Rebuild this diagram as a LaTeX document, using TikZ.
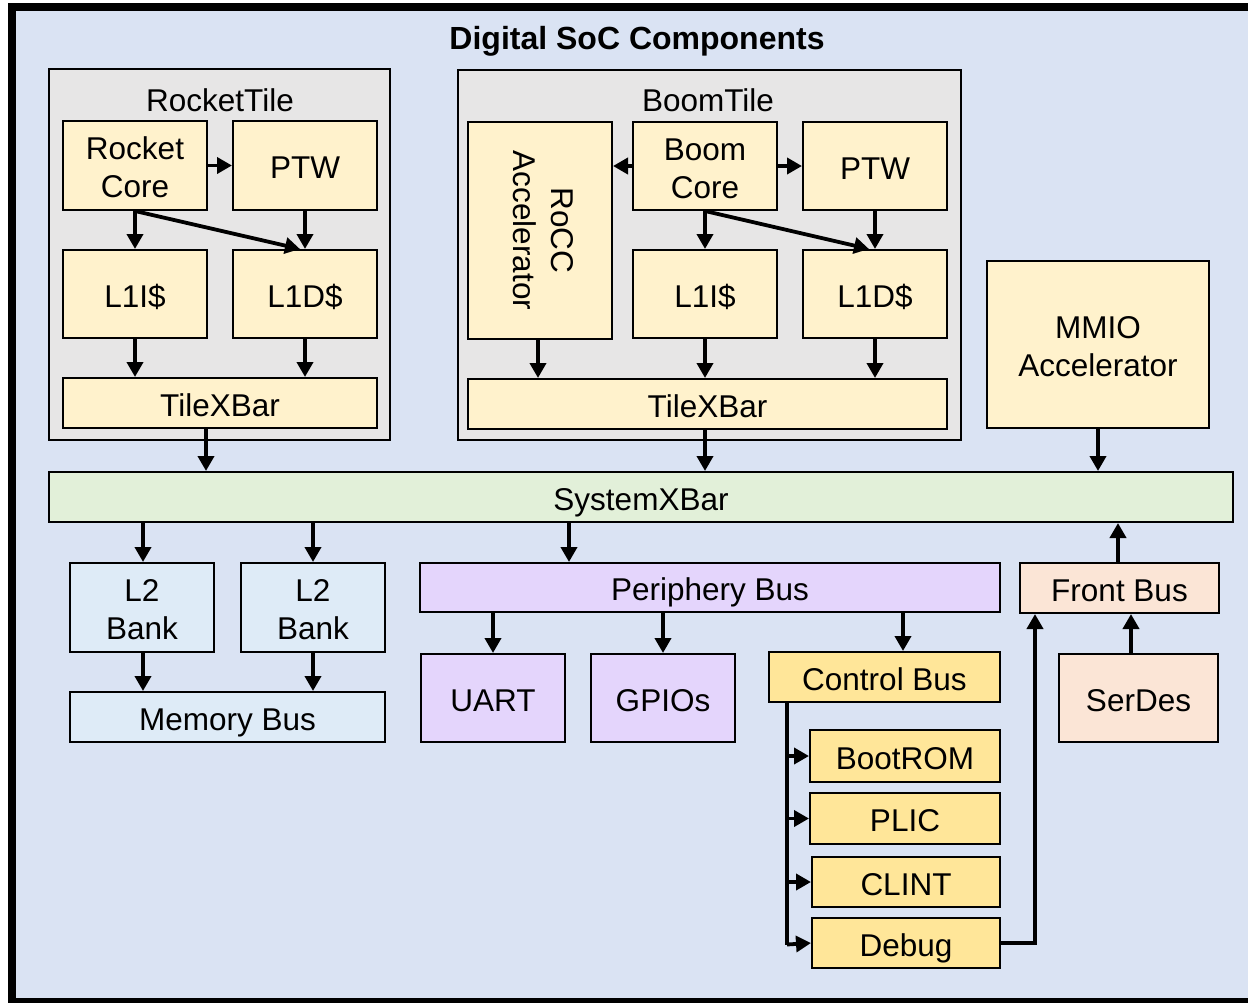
\documentclass[tikz,border=0pt]{standalone}
\usepackage{fontspec}
\setmainfont{Liberation Sans}
\usepackage{graphicx}
\usetikzlibrary{arrows.meta}
\definecolor{bgblue}{HTML}{DAE3F3}
\definecolor{tilegray}{HTML}{E7E6E6}
\definecolor{ltyellow}{HTML}{FFF2CC}
\definecolor{dkyellow}{HTML}{FFE699}
\definecolor{ltgreen}{HTML}{E2F0D9}
\definecolor{ltblue}{HTML}{DEEBF7}
\definecolor{lavender}{HTML}{E4D5FC}
\definecolor{peach}{HTML}{FBE5D6}
\begin{document}
\begin{tikzpicture}[x=1pt,y=-1pt,
  box/.style={draw=black, line width=2pt, inner sep=0pt, align=center, text height=26pt, text depth=0pt, font=\fontsize{31.5}{38}\selectfont},
  two/.style={text height=64pt, text depth=0pt},
  yb/.style={box, fill=ltyellow},
  tilebox/.style={draw=black, line width=2pt, fill=tilegray, inner sep=0pt},
  lbl/.style={inner sep=0pt, text height=26pt, text depth=0pt, font=\fontsize{31.5}{38}\selectfont},
  arr/.style={line width=3.8pt, -{Triangle[length=15pt 0 0,width=16pt 0 0]}},
  wire/.style={line width=3.8pt}]
\useasboundingbox (0,0) rectangle (1248,1002);
\fill[white] (0,0) rectangle (1248,1002);
\draw[line width=8pt, fill=bgblue] (12,7) rectangle (1252,1002);
\node[lbl, font=\fontsize{32}{38}\selectfont\bfseries] (title) at (637,36.5) {Digital SoC Components};

% Rocket tile
\node[tilebox, minimum width=341pt, minimum height=371pt] (rtile) at (219.5,254.5) {};
\node[lbl] (rtitle) at (220,98.5) {RocketTile};
\node[yb, two, minimum width=144pt, minimum height=89pt] (rc) at (135,165.5) {Rocket\\Core};
\node[yb, minimum width=144pt, minimum height=89pt] (rptw) at (305,165.5) {PTW};
\node[yb, minimum width=144pt, minimum height=88pt] (rl1i) at (135,294) {L1I\$};
\node[yb, minimum width=144pt, minimum height=88pt] (rl1d) at (305,294) {L1D\$};
\node[yb, minimum width=314pt, minimum height=50pt] (rxbar) at (220,403) {TileXBar};

% Boom tile
\node[tilebox, minimum width=503pt, minimum height=370pt] (btile) at (709.5,255) {};
\node[lbl] (btitle) at (708,98.5) {BoomTile};
\node[yb, text height=, text depth=, minimum width=144pt, minimum height=217pt] (rocc) at (540,230.5)
  {\rotatebox{-90}{\begin{tabular}{@{}c@{}}RoCC\\Accelerator\end{tabular}}};
\node[yb, two, minimum width=144pt, minimum height=88pt] (bc) at (705,166) {Boom\\Core};
\node[yb, minimum width=144pt, minimum height=88pt] (bptw) at (875,166) {PTW};
\node[yb, minimum width=144pt, minimum height=88pt] (bl1i) at (705,294) {L1I\$};
\node[yb, minimum width=144pt, minimum height=88pt] (bl1d) at (875,294) {L1D\$};
\node[yb, minimum width=479pt, minimum height=50pt] (bxbar) at (707.5,404) {TileXBar};

% MMIO and system bar
\node[yb, two, minimum width=222pt, minimum height=167pt] (mmio) at (1098,344.5) {MMIO\\Accelerator};
\node[box, fill=ltgreen, minimum width=1184pt, minimum height=50pt] (sysx) at (641,497) {SystemXBar};

% Memory side
\node[box, two, fill=ltblue, minimum width=144pt, minimum height=89pt] (l2a) at (142,607.5) {L2\\Bank};
\node[box, two, fill=ltblue, minimum width=144pt, minimum height=89pt] (l2b) at (313,607.5) {L2\\Bank};
\node[box, fill=ltblue, minimum width=315pt, minimum height=50pt] (membus) at (227.5,717) {Memory Bus};

% Periphery
\node[box, fill=lavender, minimum width=580pt, minimum height=49pt] (pbus) at (710,587.5) {Periphery Bus};
\node[box, fill=lavender, minimum width=144pt, minimum height=88pt] (uart) at (493,698) {UART};
\node[box, fill=lavender, minimum width=144pt, minimum height=88pt] (gpio) at (663,698) {GPIOs};
\node[box, fill=dkyellow, minimum width=231pt, minimum height=50pt] (cbus) at (884.5,677) {Control Bus};
\node[box, fill=dkyellow, minimum width=190pt, minimum height=52pt] (boot) at (905,756) {BootROM};
\node[box, fill=dkyellow, minimum width=190pt, minimum height=51pt] (plic) at (905,818.5) {PLIC};
\node[box, fill=dkyellow, minimum width=188pt, minimum height=50pt] (clint) at (906,882) {CLINT};
\node[box, fill=dkyellow, minimum width=188pt, minimum height=50pt] (debug) at (906,943) {Debug};

% Front side
\node[box, fill=peach, minimum width=199pt, minimum height=50pt] (fbus) at (1119.5,588) {Front Bus};
\node[box, fill=peach, minimum width=159pt, minimum height=88pt] (serdes) at (1138.5,698) {SerDes};

% helper x positions
\coordinate (xr) at (206,0);
\coordinate (xp) at (569,0);
\coordinate (xc) at (903,0);
\coordinate (xbus) at (787,0);
\coordinate (xdbg) at (1035,0);
\coordinate (xsd) at (1131,0);
\coordinate (xfb) at (1118,0);

% Rocket arrows
\draw[arr] (rc.east) -- (rptw.west);
\draw[arr] (rc.south) -- (rl1i.north);
\draw[arr] (rc.south) -- ([xshift=-5pt]rl1d.north);
\draw[arr] (rptw.south) -- (rl1d.north);
\draw[arr] (rl1i.south) -- (rl1i.south |- rxbar.north);
\draw[arr] (rl1d.south) -- (rl1d.south |- rxbar.north);
\draw[arr] (xr |- rxbar.south) -- (xr |- sysx.north);

% Boom arrows
\draw[arr] (bc.west) -- (rocc.east |- bc.west);
\draw[arr] (bc.east) -- (bptw.west);
\draw[arr] (bc.south) -- (bl1i.north);
\draw[arr] (bc.south) -- ([xshift=-6pt]bl1d.north);
\draw[arr] (bptw.south) -- (bl1d.north);
\draw[arr] ([xshift=-2pt]rocc.south) -- ([xshift=-2pt]rocc.south |- bxbar.north);
\draw[arr] (bl1i.south) -- (bl1i.south |- bxbar.north);
\draw[arr] (bl1d.south) -- (bl1d.south |- bxbar.north);
\draw[arr] (bl1i.south |- bxbar.south) -- (bl1i.south |- sysx.north);

% MMIO
\draw[arr] (mmio.south) -- (mmio.south |- sysx.north);

% System bar to memory and periphery
\draw[arr] ([xshift=1pt]l2a.north |- sysx.south) -- ([xshift=1pt]l2a.north);
\draw[arr] (l2b.north |- sysx.south) -- (l2b.north);
\draw[arr] ([xshift=1pt]l2a.south) -- ([xshift=1pt]l2a.south |- membus.north);
\draw[arr] (l2b.south) -- (l2b.south |- membus.north);
\draw[arr] (xp |- sysx.south) -- (xp |- pbus.north);
\draw[arr] (uart.north |- pbus.south) -- (uart.north);
\draw[arr] (gpio.north |- pbus.south) -- (gpio.north);
\draw[arr] (xc |- pbus.south) -- (xc |- cbus.north);

% Control bus branches
\draw[wire] (xbus |- cbus.south) -- ([yshift=-1.5pt]xbus |- debug.west);
\draw[arr] (xbus |- boot.west) -- (boot.west);
\draw[arr] (xbus |- plic.west) -- (plic.west);
\draw[arr] (xbus |- clint.west) -- (clint.west);
\draw[arr] ([yshift=-1.5pt]xbus |- debug.west) -- (debug.west);

% Debug to front bus
\draw[arr] (debug.east) -- (xdbg |- debug.east) -- (xdbg |- fbus.south);
\draw[arr] (xsd |- serdes.north) -- (xsd |- fbus.south);
\draw[arr] (xfb |- fbus.north) -- (xfb |- sysx.south);
\end{tikzpicture}
\end{document}
